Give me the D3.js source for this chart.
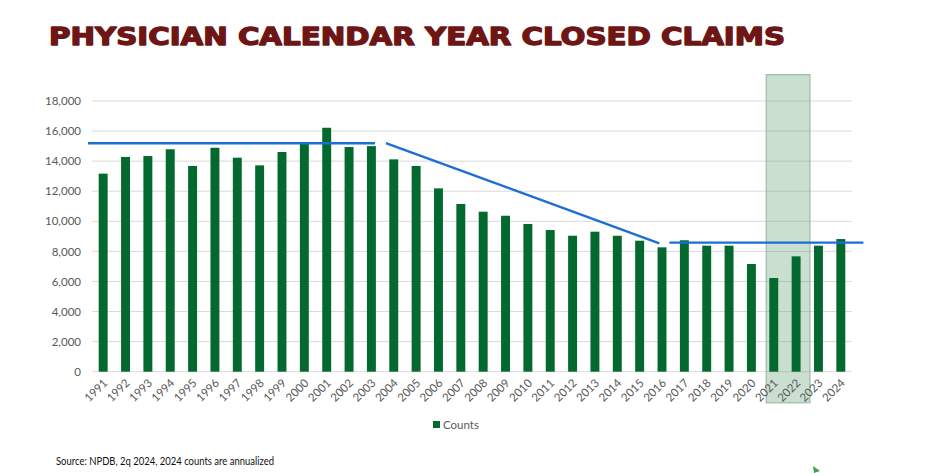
<!DOCTYPE html>
<html>
<head>
<meta charset="utf-8">
<script src="https://cdn.jsdelivr.net/npm/d3@7/dist/d3.min.js"></script>
<style>
  html, body { margin: 0; padding: 0; background: #ffffff; }
  svg { display: block; }
</style>
</head>
<body>
<svg id="chart" width="950" height="473"></svg>
<script>
// ---- data ----
const years = ["1991","1992","1993","1994","1995","1996","1997","1998","1999","2000",
               "2001","2002","2003","2004","2005","2006","2007","2008","2009","2010",
               "2011","2012","2013","2014","2015","2016","2017","2018","2019","2020",
               "2021","2022","2023","2024"];
const counts = [13170, 14280, 14340, 14790, 13680, 14890, 14230, 13720, 14610, 15150,
                16220, 14940, 15000, 14120, 13680, 12190, 11150, 10640, 10370, 9820,
                9420, 9040, 9310, 9040, 8710, 8270, 8740, 8380, 8380, 7160,
                6230, 7670, 8380, 8820];
const yTicks = [0, 2000, 4000, 6000, 8000, 10000, 12000, 14000, 16000, 18000];
// trend lines: [year position, value] pairs
const trendFlat1 = [[1990.32, 15190], [2003.16, 15190]];
const trendDecline = [[2003.65, 15200], [2015.88, 8540]];
const trendFlat2 = [[2016.33, 8580], [2025.01, 8580]];
// highlighted period (year positions, value extent)
const highlightYears = [2020.66, 2022.62];
const highlightValues = [-2070, 19750];
const seriesName = "Counts";
const titleText = "PHYSICIAN CALENDAR YEAR CLOSED CLAIMS";
const sourceText = "Source: NPDB, 2q 2024, 2024 counts are annualized";

// ---- layout ----
const svg = d3.select("#chart");
const plotLeft = 92, plotRight = 852, plotTop = 101, plotBottom = 371.7;

const x = d3.scaleBand().domain(years).range([plotLeft, plotRight]).paddingInner(0.6).paddingOuter(0.3);
const xPos = d3.scaleLinear().domain([1990.5, 2024.5]).range([plotLeft, plotRight]);
const y = d3.scaleLinear().domain([0, 18000]).range([plotBottom, plotTop]);

const green = "#03692f";
const blue = "#1b6fd3";
const labelColor = "#595959";
const font = "Lato, 'Open Sans', 'Liberation Sans', sans-serif";

// title
svg.append("text")
  .attr("x", 49).attr("y", 45)
  .attr("font-family", "'DejaVu Sans Condensed', 'DejaVu Sans', sans-serif")
  .attr("font-weight", "bold")
  .attr("font-size", 25)
  .attr("fill", "#6e1616")
  .attr("stroke", "#6e1616").attr("stroke-width", 1.3).attr("stroke-linejoin", "round")
  .attr("textLength", 736).attr("lengthAdjust", "spacingAndGlyphs")
  .text(titleText);

// gridlines
svg.append("g").selectAll("line").data(yTicks).join("line")
  .attr("x1", plotLeft).attr("x2", plotRight)
  .attr("y1", d => y(d)).attr("y2", d => y(d))
  .attr("stroke", "#d9d9d9").attr("stroke-width", 1);

// highlight box (over gridlines, under bars)
svg.append("rect")
  .attr("x", xPos(highlightYears[0]))
  .attr("width", xPos(highlightYears[1]) - xPos(highlightYears[0]))
  .attr("y", y(highlightValues[1]))
  .attr("height", y(highlightValues[0]) - y(highlightValues[1]))
  .attr("fill", "#5f9e70").attr("fill-opacity", 0.33)
  .attr("stroke", "#8fb39a").attr("stroke-width", 1);

// y axis labels
const yAxis = d3.axisLeft(y).tickValues(yTicks).tickSize(0).tickPadding(11)
  .tickFormat(d3.format(","));
const gy = svg.append("g").attr("transform", `translate(${plotLeft},0)`).call(yAxis);
gy.select(".domain").remove();
gy.selectAll("text").attr("font-family", font).attr("font-size", 11.5).attr("fill", labelColor);

// bars
svg.append("g").selectAll("rect").data(years).join("rect")
  .attr("x", d => x(d))
  .attr("width", x.bandwidth())
  .attr("y", (d, i) => y(counts[i]))
  .attr("height", (d, i) => y(0) - y(counts[i]))
  .attr("fill", green);

// x axis labels
const xAxis = d3.axisBottom(x).tickSize(0).tickPadding(0);
const gx = svg.append("g").attr("transform", `translate(0,${plotBottom})`).call(xAxis);
gx.select(".domain").remove();
gx.selectAll("text")
  .attr("font-family", font).attr("font-size", 11.5).attr("fill", labelColor)
  .attr("text-anchor", "end")
  .attr("dy", 0)
  .attr("transform", "translate(5,12) rotate(-45)");

// trend lines
const line = d3.line().x(d => xPos(d[0])).y(d => y(d[1]));
[trendFlat1, trendDecline, trendFlat2].forEach(t => {
  svg.append("path").attr("d", line(t))
    .attr("fill", "none").attr("stroke", blue).attr("stroke-width", 2.4);
});

// legend
const lg = svg.append("g").attr("transform", "translate(433,421)");
lg.append("rect").attr("width", 7).attr("height", 7).attr("fill", green);
lg.append("text").attr("x", 10).attr("y", 7.5)
  .attr("font-family", font).attr("font-size", 11.5).attr("fill", labelColor)
  .text(seriesName);

// source note
svg.append("text").attr("x", 56).attr("y", 465)
  .attr("font-family", font).attr("font-size", 10.5).attr("fill", "#111")
  .attr("textLength", 218).attr("lengthAdjust", "spacingAndGlyphs")
  .text(sourceText);

// small green mark at bottom right
svg.append("path")
  .attr("d", "M813,466 L820,471 L814,473 Z")
  .attr("fill", "#3aa64a");
</script>
</body>
</html>
